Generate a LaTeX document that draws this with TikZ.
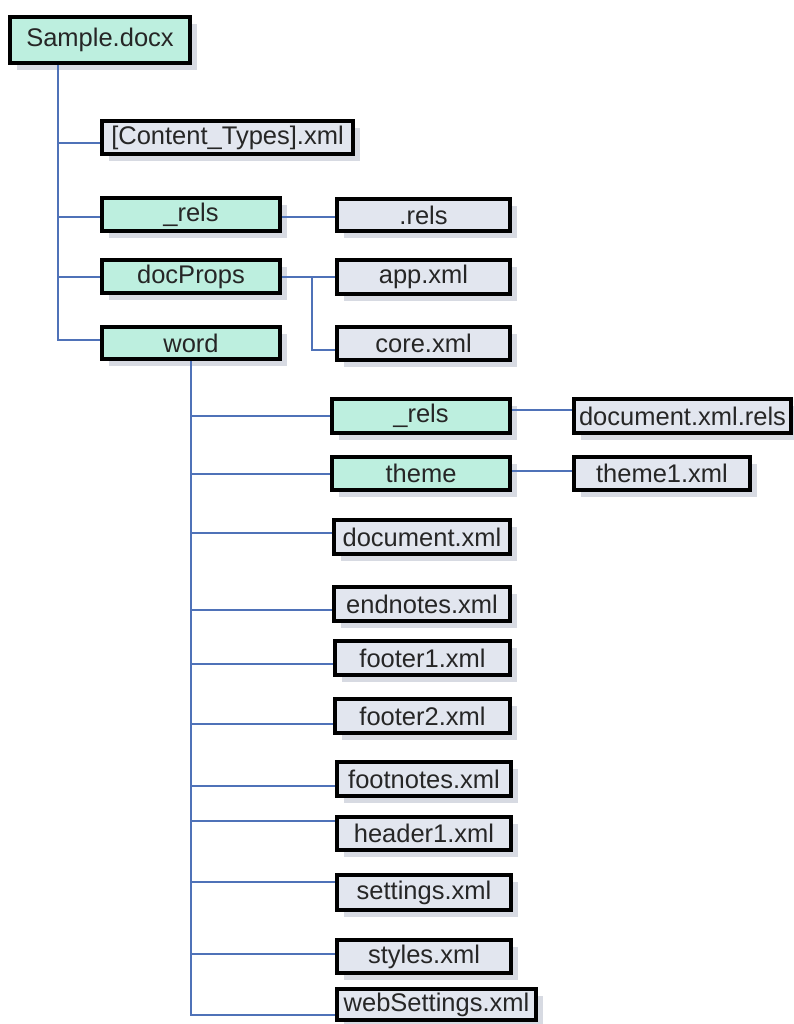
\documentclass[tikz,border=0pt]{standalone}
\usepackage{fontspec}
\setmainfont{Liberation Sans}
\usetikzlibrary{shadows}
\definecolor{folderfill}{HTML}{BDEFDF}
\definecolor{filefill}{HTML}{E2E6EF}
\definecolor{linkblue}{HTML}{4F72B8}
\definecolor{shadowgray}{HTML}{CDD1DB}
\tikzset{
  box/.style={draw=black, line width=4pt, inner sep=0pt, text=black!85,
    font=\fontsize{25.5}{28}\selectfont,
    drop shadow={shadow xshift=7pt, shadow yshift=-7pt, fill=shadowgray, opacity=0.8}},
  folder/.style={box, fill=folderfill},
  file/.style={box, fill=filefill},
  link/.style={draw=linkblue, line width=2pt},
}
% place a box from its outer corners: x1,x2,y1,y2
\newcommand{\boxat}[7]{%
  \node[#1, minimum width={#4-#3-4pt}, minimum height={#6-#5-4pt}]
    (#2) at ({(#3+#4)/2},{(#5+#6)/2}) {#7};}
\begin{document}
\begin{tikzpicture}[x=1pt,y=-1pt]
\useasboundingbox (0,0) rectangle (794,1024);
\fill[white] (0,0) rectangle (794,1024);

% root and first level
\boxat{folder}{root}{8}{192}{15}{65}{Sample.docx}
\boxat{file}{ct}{100}{355}{119}{156}{[Content\_Types].xml}
\boxat{folder}{rels}{100}{282}{196}{233}{\_rels}
\boxat{folder}{props}{100}{282}{258}{295}{docProps}
\boxat{folder}{word}{100}{282}{325}{361}{word}

% contents of _rels and docProps
\boxat{file}{dotrels}{335}{512}{197}{233}{.rels}
\boxat{file}{app}{335}{512}{258}{296}{app.xml}
\boxat{file}{core}{335}{512}{325}{362}{core.xml}

% contents of word
\boxat{folder}{wrels}{330}{512}{397}{435}{\_rels}
\boxat{folder}{theme}{330}{512}{455}{492}{theme}
\boxat{file}{docrels}{572}{793}{397}{435}{document.xml.rels}
\boxat{file}{theme1}{572}{752}{455}{492}{theme1.xml}
\boxat{file}{document}{332}{512}{518}{556}{document.xml}
\boxat{file}{endnotes}{332}{512}{585}{623}{endnotes.xml}
\boxat{file}{footer1}{333}{512}{639}{677}{footer1.xml}
\boxat{file}{footer2}{333}{512}{697}{735}{footer2.xml}
\boxat{file}{footnotes}{335}{513}{760}{798}{footnotes.xml}
\boxat{file}{header1}{335}{513}{815}{852}{header1.xml}
\boxat{file}{settings}{335}{513}{873}{912}{settings.xml}
\boxat{file}{styles}{335}{513}{938}{975}{styles.xml}
\boxat{file}{websettings}{335}{538}{987}{1022}{webSettings.xml}

% connectors from the package root
\coordinate (rt) at ([xshift=-42pt]root.south);
\draw[link] (rt) |- ([yshift=3pt]word.west);
\draw[link] ([yshift=-5.5pt]rt |- ct.west) -- ([yshift=-5.5pt]ct.west);
\draw[link] ([yshift=-2.5pt]rt |- rels.west) -- ([yshift=-2.5pt]rels.west);
\draw[link] (rt |- props.west) -- (props.west);

% _rels and docProps children
\draw[link] ([yshift=-2.5pt]rels.east) -- ([yshift=-2.5pt]rels.east -| dotrels.west);
\draw[link] (props.east) -- (props.east -| app.west);
\coordinate (pj) at ([xshift=30pt]props.east);
\draw[link] (pj) |- ([yshift=-6pt]core.west);

% word trunk and its children
\coordinate (wt) at (word.south);
\draw[link] (wt) -- ([yshift=-10pt]wt |- websettings.west) -- ([yshift=-10pt]websettings.west);
\draw[link] (wt |- wrels.west) -- (wrels.west);
\draw[link] (wt |- theme.west) -- (theme.west);
\draw[link] ([yshift=4pt]wt |- document.west) -- ([yshift=4pt]document.west);
\draw[link] ([yshift=-6pt]wt |- endnotes.west) -- ([yshift=-6pt]endnotes.west);
\draw[link] ([yshift=-6pt]wt |- footer1.west) -- ([yshift=-6pt]footer1.west);
\draw[link] ([yshift=-8pt]wt |- footer2.west) -- ([yshift=-8pt]footer2.west);
\draw[link] ([yshift=-7pt]wt |- footnotes.west) -- ([yshift=-7pt]footnotes.west);
\draw[link] ([yshift=13pt]wt |- header1.west) -- ([yshift=13pt]header1.west);
\draw[link] ([yshift=11pt]wt |- settings.west) -- ([yshift=11pt]settings.west);
\draw[link] ([yshift=2.5pt]wt |- styles.west) -- ([yshift=2.5pt]styles.west);

% word/_rels and word/theme children
\draw[link] ([yshift=6pt]wrels.east) -- ([yshift=6pt]wrels.east -| docrels.west);
\draw[link] ([yshift=3pt]theme.east) -- ([yshift=3pt]theme.east -| theme1.west);
\end{tikzpicture}
\end{document}
